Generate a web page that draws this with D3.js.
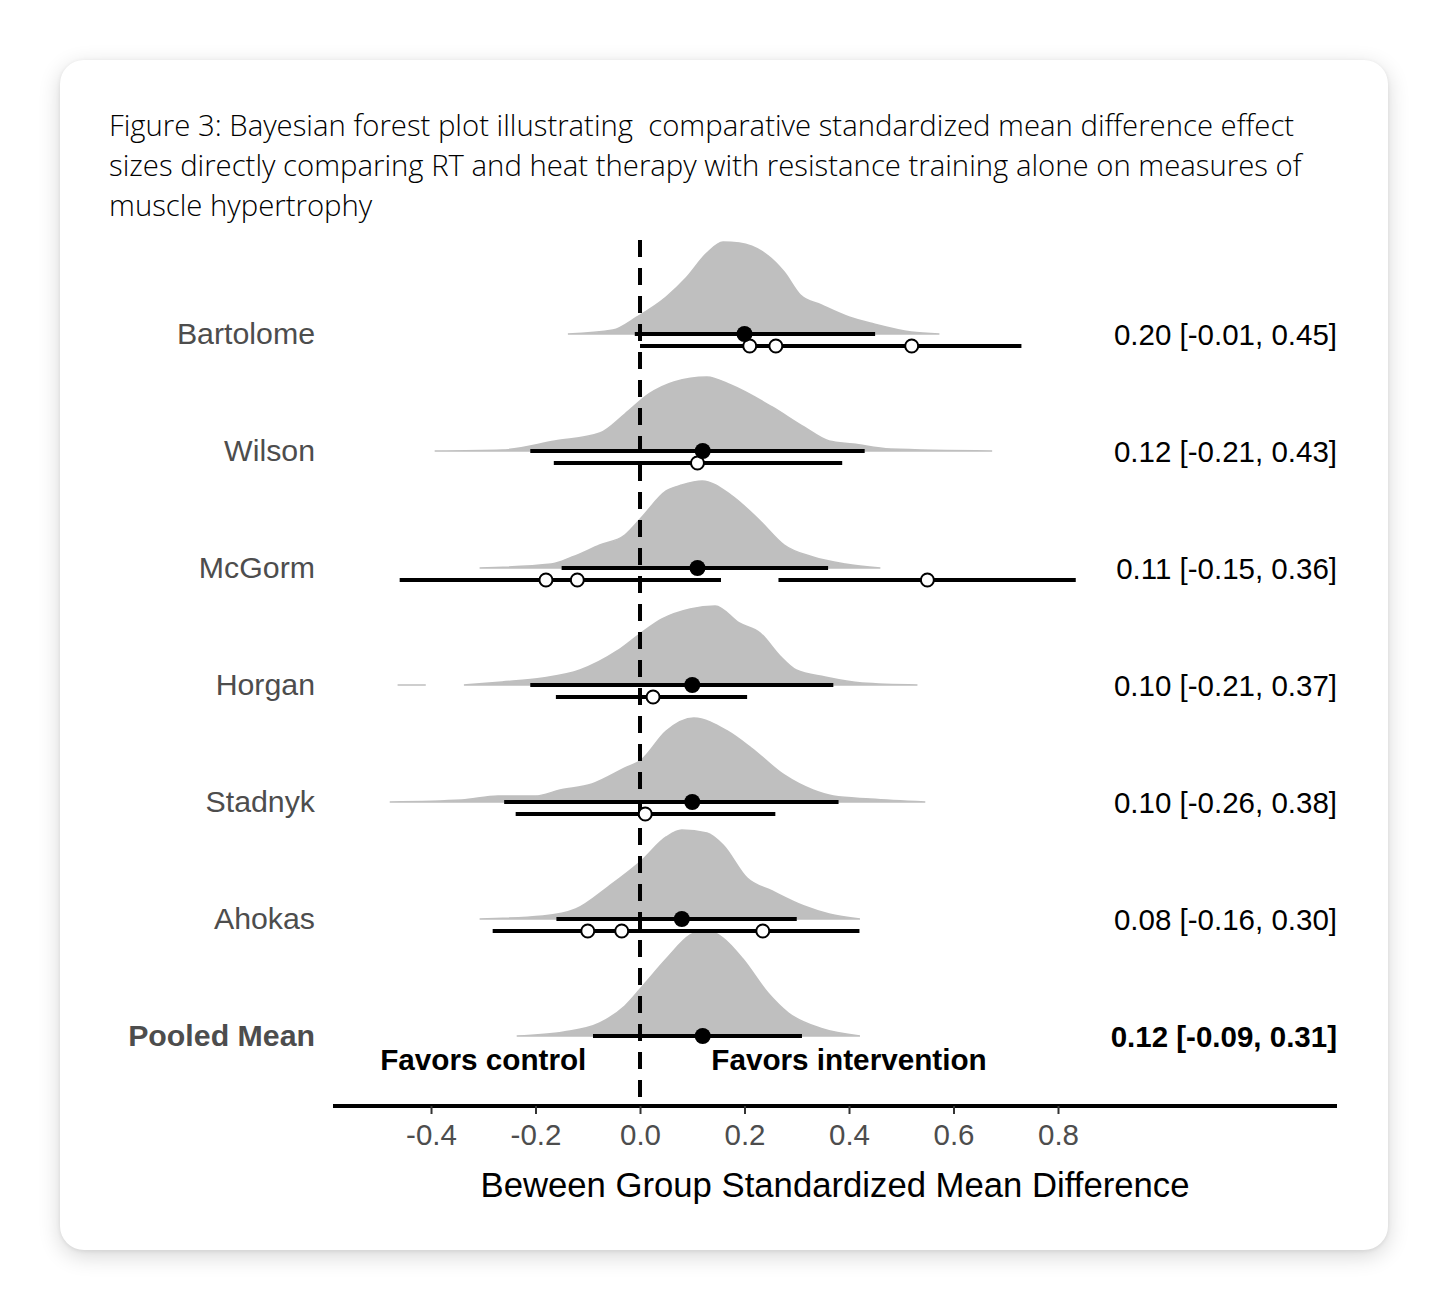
<!DOCTYPE html>
<html>
<head>
<meta charset="utf-8">
<script src="https://cdn.jsdelivr.net/npm/d3@7/dist/d3.min.js"></script>
<style>
	body { margin: 0; background: #ffffff; }
	#card {
		position: absolute; left: 60px; top: 60px; width: 1328px; height: 1190px;
		background: #fff; border-radius: 24px;
		box-shadow: 0 6px 22px rgba(0,0,0,0.16), 0 1px 4px rgba(0,0,0,0.08);
	}
	#chart { position: absolute; left: 0; top: 0; }
	.title { font-family: "Open Sans", sans-serif; font-weight: 300; font-size: 29.3px; fill: #000; white-space: pre; }
	.lab { font-family: "Liberation Sans", Arial, sans-serif; }
</style>
</head>
<body>
<div id="card"></div>
<div id="chart"></div>
<script>
// data
var titleLines = [
	"Figure 3: Bayesian forest plot illustrating  comparative standardized mean difference effect",
	"sizes directly comparing RT and heat therapy with resistance training alone on measures of",
	"muscle hypertrophy"
];
var studies   = ["Bartolome", "Wilson", "McGorm", "Horgan", "Stadnyk", "Ahokas", "Pooled Mean"];
var estimates = [0.20, 0.12, 0.11, 0.10, 0.10, 0.08, 0.12];
var lower     = [-0.01, -0.21, -0.15, -0.21, -0.26, -0.16, -0.09];
var upper     = [0.45, 0.43, 0.36, 0.37, 0.38, 0.30, 0.31];
var ciLabels  = ["0.20 [-0.01, 0.45]", "0.12 [-0.21, 0.43]", "0.11 [-0.15, 0.36]",
	"0.10 [-0.21, 0.37]", "0.10 [-0.26, 0.38]", "0.08 [-0.16, 0.30]", "0.12 [-0.09, 0.31]"];

// observed (open) effects and their intervals
var obsEffects = [[0.21, 0.26, 0.52], [0.11], [-0.18, -0.12, 0.55], [0.025], [0.01], [-0.10, -0.035, 0.235], []];
var obsRanges  = [[[0.00, 0.73]], [[-0.165, 0.387]], [[-0.46, 0.155], [0.265, 0.834]],
	[[-0.161, 0.205]], [[-0.238, 0.259]], [[-0.282, 0.42]], []];

// posterior densities [value, height]
var densBartolome = [[-0.138,0],[-0.052,0.04],[-0.006,0.17],[0.05,0.37],[0.088,0.56],[0.128,0.81],[0.159,0.92],
	[0.19,0.91],[0.238,0.81],[0.276,0.62],[0.307,0.39],[0.347,0.29],[0.40,0.17],[0.448,0.10],[0.519,0.02],[0.573,0]];
var densWilson = [[-0.393,0],[-0.264,0.01],[-0.163,0.10],[-0.077,0.18],[-0.029,0.37],[0.017,0.57],[0.065,0.69],
	[0.128,0.74],[0.174,0.66],[0.253,0.44],[0.314,0.24],[0.362,0.10],[0.408,0.07],[0.479,0.02],[0.674,0]];
var densMcGorm = [[-0.307,0],[-0.17,0.04],[-0.13,0.11],[-0.077,0.23],[-0.029,0.33],[0.002,0.50],[0.05,0.77],
	[0.08,0.83],[0.119,0.87],[0.174,0.73],[0.23,0.47],[0.276,0.23],[0.331,0.11],[0.393,0.04],[0.46,0]];
var densHorgan = [[-0.464,0],[-0.41,0],[-0.38,null],[-0.337,0],[-0.264,0.03],[-0.186,0.07],[-0.115,0.15],
	[-0.044,0.34],[0.002,0.52],[0.042,0.66],[0.096,0.76],[0.144,0.79],[0.19,0.62],[0.23,0.52],[0.268,0.29],
	[0.299,0.15],[0.354,0.08],[0.425,0.02],[0.531,0]];
var densStadnyk = [[-0.479,0],[-0.341,0.02],[-0.272,0.06],[-0.201,0.06],[-0.153,0.12],[-0.092,0.18],[-0.029,0.34],
	[0.002,0.42],[0.05,0.71],[0.103,0.84],[0.167,0.71],[0.213,0.54],[0.276,0.27],[0.331,0.12],[0.37,0.06],
	[0.441,0.03],[0.546,0]];
var densAhokas = [[-0.307,0],[-0.186,0.03],[-0.123,0.10],[-0.059,0.33],[0.002,0.58],[0.05,0.82],[0.08,0.89],
	[0.128,0.86],[0.159,0.74],[0.205,0.41],[0.253,0.28],[0.314,0.13],[0.362,0.05],[0.421,0]];
var densPooled = [[-0.236,0],[-0.146,0.04],[-0.077,0.13],[-0.029,0.30],[0.01,0.53],[0.05,0.77],[0.096,1.01],
	[0.128,1.06],[0.159,0.98],[0.197,0.77],[0.245,0.43],[0.284,0.23],[0.347,0.075],[0.421,0]];
var densities = [densBartolome, densWilson, densMcGorm, densHorgan, densStadnyk, densAhokas, densPooled];

var tickValues = [-0.4, -0.2, 0.0, 0.2, 0.4, 0.6, 0.8];

//
// set up
//
var _width = 1448, _height = 1310;
var panel = { left: 333, right: 1337, top: 240, axisY: 1106 };

var x = d3.scaleLinear().domain([-0.5876, 1.334]).range([panel.left, panel.right]);
var y = d3.scalePoint().domain(studies).range([334, 1036]);
var h = d3.scaleLinear().domain([0, 1]).range([0, 100]);
var obsOffset = 12;

var svg = d3.select("#chart").append("svg")
	.attr("width", _width)
	.attr("height", _height);

// title
svg.selectAll("text.title")
	.data(titleLines)
	.enter()
	.append("text")
	.attr("class", "title")
	.attr("x", 109)
	.attr("y", function(d, i) { return 136 + i * 40; })
	.text(function(d) { return d; });

// ridges
var area = d3.area()
	.defined(function(d) { return d[1] !== null; })
	.curve(d3.curveMonotoneX)
	.x(function(d) { return x(d[0]); })
	.y0(0)
	.y1(function(d) { return -h(d[1]); });

svg.selectAll("path.ridge")
	.data(densities)
	.enter()
	.append("path")
	.attr("class", "ridge")
	.attr("transform", function(d, i) { return "translate(0," + y(studies[i]) + ")"; })
	.attr("d", area)
	.attr("fill", "#bfbfbf")
	.attr("stroke", "#bfbfbf")
	.attr("stroke-width", 1.5);

// zero line
svg.append("line")
	.attr("x1", x(0)).attr("x2", x(0))
	.attr("y1", panel.top).attr("y2", panel.axisY)
	.attr("stroke", "#000")
	.attr("stroke-width", 4)
	.attr("stroke-dasharray", "17,11");

// observed intervals
studies.forEach(function(s, i) {
	var yy = y(s) + obsOffset;
	svg.selectAll(null)
		.data(obsRanges[i])
		.enter()
		.append("line")
		.attr("x1", function(d) { return x(d[0]); })
		.attr("x2", function(d) { return x(d[1]); })
		.attr("y1", yy).attr("y2", yy)
		.attr("stroke", "#000")
		.attr("stroke-width", 4);
});

// pooled intervals
svg.selectAll("line.ci")
	.data(studies)
	.enter()
	.append("line")
	.attr("class", "ci")
	.attr("x1", function(d, i) { return x(lower[i]); })
	.attr("x2", function(d, i) { return x(upper[i]); })
	.attr("y1", function(d) { return y(d); })
	.attr("y2", function(d) { return y(d); })
	.attr("stroke", "#000")
	.attr("stroke-width", 4);

// observed points
studies.forEach(function(s, i) {
	var yy = y(s) + obsOffset;
	svg.selectAll(null)
		.data(obsEffects[i])
		.enter()
		.append("circle")
		.attr("cx", function(d) { return x(d); })
		.attr("cy", yy)
		.attr("r", 6.5)
		.attr("fill", "#fff")
		.attr("stroke", "#000")
		.attr("stroke-width", 2);
});

// estimates
svg.selectAll("circle.est")
	.data(studies)
	.enter()
	.append("circle")
	.attr("class", "est")
	.attr("cx", function(d, i) { return x(estimates[i]); })
	.attr("cy", function(d) { return y(d); })
	.attr("r", 8)
	.attr("fill", "#000");

// study labels
svg.selectAll("text.study")
	.data(studies)
	.enter()
	.append("text")
	.attr("class", "lab study")
	.attr("x", 315)
	.attr("y", function(d) { return y(d) - 1; })
	.attr("dy", "0.35em")
	.attr("text-anchor", "end")
	.attr("font-size", 30.3)
	.attr("font-weight", function(d, i) { return i === studies.length - 1 ? "bold" : "normal"; })
	.attr("fill", "#4d4d4d")
	.text(function(d) { return d; });

// estimate labels
svg.selectAll("text.ci")
	.data(ciLabels)
	.enter()
	.append("text")
	.attr("class", "lab ci")
	.attr("x", panel.right)
	.attr("y", function(d, i) { return y(studies[i]) + 1; })
	.attr("dy", "0.35em")
	.attr("text-anchor", "end")
	.attr("font-size", 29.5)
	.attr("font-weight", function(d, i) { return i === ciLabels.length - 1 ? "bold" : "normal"; })
	.attr("fill", "#000")
	.text(function(d) { return d; });

// favours annotations
svg.selectAll("text.favor")
	.data([{ v: -0.30, t: "Favors control" }, { v: 0.40, t: "Favors intervention" }])
	.enter()
	.append("text")
	.attr("class", "lab favor")
	.attr("x", function(d) { return x(d.v); })
	.attr("y", 1070)
	.attr("text-anchor", "middle")
	.attr("font-size", 29.7)
	.attr("font-weight", "bold")
	.attr("fill", "#000")
	.text(function(d) { return d.t; });

// x axis
var axis = svg.append("g")
	.attr("transform", "translate(0," + panel.axisY + ")")
	.call(d3.axisBottom(x).tickValues(tickValues).tickSize(8).tickPadding(10)
		.tickFormat(function(d) { return d3.format(".1f")(d).replace("\u2212", "-"); }));
axis.select(".domain")
	.attr("stroke", "#000")
	.attr("stroke-width", 4)
	.attr("d", "M" + panel.left + ",0H" + panel.right);
axis.selectAll(".tick line").attr("stroke", "#333").attr("stroke-width", 2);
axis.selectAll(".tick text")
	.attr("font-family", "Liberation Sans, Arial, sans-serif")
	.attr("font-size", 29.5)
	.attr("fill", "#4d4d4d");

svg.append("text")
	.attr("class", "lab")
	.attr("x", (panel.left + panel.right) / 2)
	.attr("y", 1197)
	.attr("text-anchor", "middle")
	.attr("font-size", 34.7)
	.attr("fill", "#000")
	.text("Beween Group Standardized Mean Difference");
</script>
</body>
</html>
